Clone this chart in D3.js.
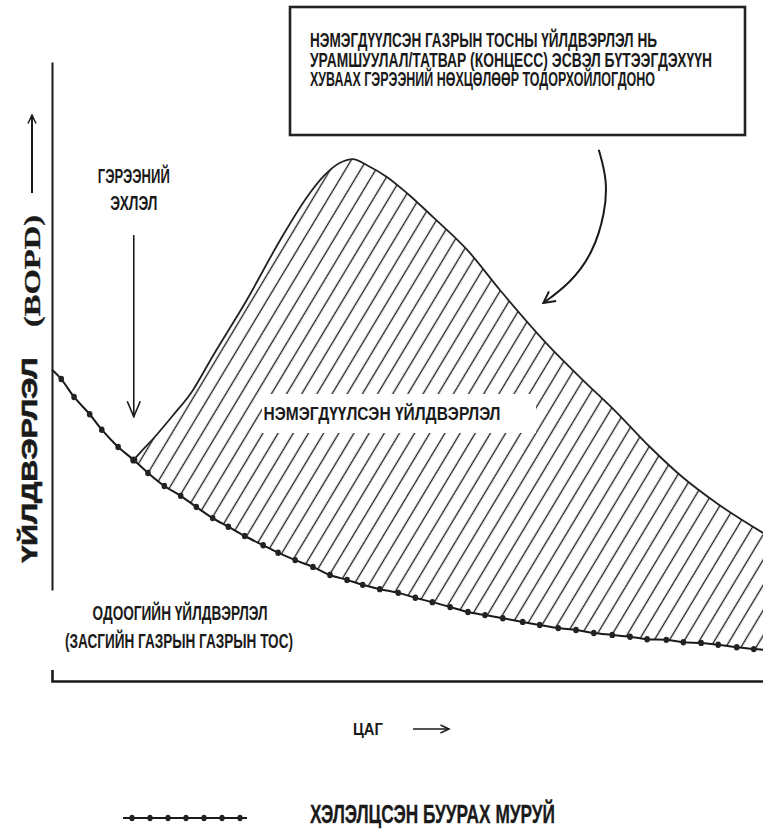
<!DOCTYPE html>
<html><head><meta charset="utf-8">
<script src="https://cdn.jsdelivr.net/npm/d3@7"></script>
<style>body{margin:0;background:#fff}svg{display:block;background:#fff}</style>
</head><body>
<svg id="chart" width="763" height="829"></svg>
<script>
// ---------- DATA ----------
// Negotiated (baseline) decline curve: time (0..100) vs production (0..100)
const declineTime = [0, 1.3, 3.1, 5.3, 7.0, 9.3, 11.5, 13.5, 15.8, 18.1, 20.3, 22.6, 24.8, 27.1, 29.7, 31.8, 34.2, 36.7, 39.1, 41.5, 43.7, 46.1, 48.7, 51.1, 53.5, 56.0, 58.5, 60.9, 63.4, 66.2, 68.6, 71.2, 73.7, 76.2, 78.8, 81.3, 83.7, 86.4, 88.8, 91.3, 93.7, 96.3, 98.7, 100];
const declineProd = [50.2, 48.7, 45.8, 43.0, 40.5, 37.7, 35.6, 33.5, 31.4, 29.8, 28.0, 26.2, 24.8, 23.3, 21.8, 20.6, 19.4, 18.3, 17.0, 16.2, 15.4, 14.7, 14.1, 13.3, 12.6, 11.8, 11.0, 10.5, 10.0, 9.4, 8.9, 8.4, 8.1, 7.6, 7.3, 7.0, 6.6, 6.5, 6.1, 6.0, 5.7, 5.3, 5.0, 4.9];
// Enhanced production curve after contract start
const enhancedTime = [11.5, 12.4, 14.2, 17.0, 19.7, 22.6, 27.4, 32.1, 35.9, 38.1, 40.5, 42.3, 44.3, 47.1, 49.9, 53.6, 58.4, 63.0, 70.0, 74.7, 79.5, 84.1, 88.7, 93.5, 100];
const enhancedProd = [35.6, 36.8, 39.0, 42.8, 46.7, 52.4, 61.5, 71.2, 78.2, 81.4, 83.7, 84.3, 83.3, 81.4, 78.8, 74.9, 69.6, 63.1, 53.9, 48.5, 43.2, 37.7, 32.8, 28.6, 23.8];
const contractStart = 11.5;
// Annotation arrows (data units)
const contractArrowProd = [72.0, 42.6];
const calloutArrowTime = [76.9, 78.1, 77.8, 76.1, 72.9, 69.1];
const calloutArrowProd = [85.8, 80.9, 75.6, 69.1, 64.2, 61.0];
// Texts
const boxLines = ["НЭМЭГДҮҮЛСЭН ГАЗРЫН ТОСНЫ ҮЙЛДВЭРЛЭЛ НЬ", "УРАМШУУЛАЛ/ТАТВАР (КОНЦЕСС) ЭСВЭЛ БҮТЭЭГДЭХҮҮН", "ХУВААХ ГЭРЭЭНИЙ НӨХЦӨЛӨӨР ТОДОРХОЙЛОГДОНО"];
const contractLabel = ["ГЭРЭЭНИЙ", "ЭХЛЭЛ"];
const areaLabel = "НЭМЭГДҮҮЛСЭН ҮЙЛДВЭРЛЭЛ";
const baseLabel = ["ОДООГИЙН ҮЙЛДВЭРЛЭЛ", "(ЗАСГИЙН ГАЗРЫН ГАЗРЫН ТОС)"];
const yLabel = "ҮЙЛДВЭРЛЭЛ";
const yUnit = "(BOPD)";
const xLabel = "ЦАГ";
const legendLabel = "ХЭЛЭЛЦСЭН БУУРАХ МУРУЙ";
const legendMarkers = [0, 1, 2, 3, 4, 5, 6];

// ---------- SETUP ----------
const svg = d3.select("#chart");
const narrow = "'Liberation Sans Narrow','Arial Narrow','Liberation Sans',Arial,sans-serif";
const ink = "#1a1a1a";

const x = d3.scaleLinear().domain([0, 100]).range([52, 763]);
const y = d3.scaleLinear().domain([0, 100]).range([680, 62]);

const decline = declineTime.map((t, i) => ({t, q: declineProd[i]}));
const enhanced = enhancedTime.map((t, i) => ({t, q: enhancedProd[i]}));

const defs = svg.append("defs");
const hatch = defs.append("pattern").attr("id", "hatch")
  .attr("patternUnits", "userSpaceOnUse")
  .attr("width", 13).attr("height", 30)
  .attr("patternTransform", "rotate(31)");
hatch.append("line").attr("x1", 6.5).attr("x2", 6.5).attr("y1", -2).attr("y2", 32)
  .attr("stroke", "#1e1e1e").attr("stroke-width", 1.35);

function arrowMarker(id, len, half, sw) {
  defs.append("marker").attr("id", id)
    .attr("markerUnits", "userSpaceOnUse")
    .attr("viewBox", `0 0 ${len + 2} ${2 * half + 2}`)
    .attr("markerWidth", len + 2).attr("markerHeight", 2 * half + 2)
    .attr("refX", len + 0.5).attr("refY", half + 1)
    .attr("orient", "auto")
    .append("path").attr("d", `M1,1 L${len + 0.5},${half + 1} L1,${2 * half + 1}`)
    .attr("fill", "none").attr("stroke", ink).attr("stroke-width", sw)
    .attr("stroke-linejoin", "miter");
}
arrowMarker("arrBig", 16, 6.5, 1.6);
arrowMarker("arrMid", 12, 6, 2);
arrowMarker("arrSmall", 9, 4, 1.5);

const declineLine = d3.line().x(d => x(d.t)).y(d => y(d.q)).curve(d3.curveCatmullRom.alpha(0.5));
const enhancedLine = d3.line().x(d => x(d.t)).y(d => y(d.q)).curve(d3.curveMonotoneX);

// ---------- HATCHED AREA ----------
const declineAfter = decline.filter(d => d.t >= contractStart).reverse();
const areaPath = enhancedLine(enhanced) + "L" + declineLine(declineAfter).slice(1) + "Z";
svg.append("path").attr("d", areaPath).attr("fill", "url(#hatch)").attr("stroke", "none");

// white panel behind area label
svg.append("rect").attr("x", 262).attr("y", 394).attr("width", 274).attr("height", 39).attr("fill", "#fff");
function label(sel, txt, opts) {
  const t = sel.append("text").attr("x", opts.x).attr("y", opts.y)
    .attr("text-anchor", opts.anchor || "start")
    .attr("font-family", opts.family || narrow)
    .attr("font-weight", opts.weight || "bold")
    .attr("font-size", opts.size).attr("fill", ink)
    .attr("textLength", opts.len).attr("lengthAdjust", "spacingAndGlyphs").text(txt);
  if (opts.sw) t.attr("stroke", ink).attr("stroke-width", opts.sw);
  if (opts.transform) t.attr("transform", opts.transform);
  return t;
}
label(svg, areaLabel, {x: 382, y: 420, anchor: "middle", size: 19, len: 237});

// enhanced curve outline
svg.append("path").attr("d", enhancedLine(enhanced)).attr("fill", "none")
  .attr("stroke", "#222").attr("stroke-width", 1.8);

// decline curve + markers
svg.append("path").attr("d", declineLine(decline)).attr("fill", "none")
  .attr("stroke", ink).attr("stroke-width", 2);
svg.append("g").selectAll("ellipse")
  .data(decline.filter((d, i) => i > 0 && i < decline.length - 1))
  .join("ellipse")
  .attr("cx", d => x(d.t)).attr("cy", d => y(d.q))
  .attr("rx", d => d.t === contractStart ? 3.6 : 2.8)
  .attr("ry", d => d.t === contractStart ? 3.6 : 3.2)
  .attr("fill", "#222");

// ---------- AXES ----------
const yAxisScale = d3.scaleLinear().domain([y.invert(590), 100]).range([590, 62]);
svg.append("g").attr("transform", "translate(52,0)")
  .call(d3.axisLeft(yAxisScale).tickValues([]).tickSizeOuter(0))
  .call(g => g.select(".domain").attr("stroke", ink).attr("stroke-width", 2));

const xAxisScale = d3.scaleLinear().domain([0, 110]).range([52, 790]);
svg.append("g").attr("transform", "translate(0,681)")
  .call(d3.axisBottom(xAxisScale).tickValues([]).tickSizeOuter(-11))
  .call(g => g.select(".domain").attr("stroke", ink).attr("stroke-width", 2.6));

// ---------- CONTRACT START ANNOTATION ----------
const cx = x(contractStart);
label(svg, contractLabel[0], {x: cx, y: 183, anchor: "middle", size: 20, len: 72});
label(svg, contractLabel[1], {x: cx, y: 210, anchor: "middle", size: 20, len: 47});
svg.append("line").attr("x1", cx).attr("x2", cx)
  .attr("y1", y(contractArrowProd[0])).attr("y2", y(contractArrowProd[1]))
  .attr("stroke", ink).attr("stroke-width", 1.6).attr("marker-end", "url(#arrBig)");

// ---------- CALLOUT BOX ----------
svg.append("rect").attr("x", 290).attr("y", 7).attr("width", 455).attr("height", 128)
  .attr("fill", "#fff").attr("stroke", "#222").attr("stroke-width", 2.6);
const boxWidths = [347, 402, 345];
const boxBase = [47, 67, 86];
boxLines.forEach((s, i) => label(svg, s, {x: 310, y: boxBase[i], size: 19.5, len: boxWidths[i]}));
const callout = calloutArrowTime.map((t, i) => ({t, q: calloutArrowProd[i]}));
svg.append("path").attr("d", d3.line().x(d => x(d.t)).y(d => y(d.q)).curve(d3.curveBasis)(callout))
  .attr("fill", "none").attr("stroke", ink).attr("stroke-width", 2)
  .attr("marker-end", "url(#arrMid)");

// ---------- BASE PRODUCTION LABEL ----------
label(svg, baseLabel[0], {x: 180, y: 620, anchor: "middle", size: 20.5, len: 175});
label(svg, baseLabel[1], {x: 179, y: 648, anchor: "middle", size: 20.5, len: 228});

// ---------- Y LABEL ----------
label(svg, yLabel, {x: 0, y: 0, anchor: "middle", family: "'Liberation Sans',Arial,sans-serif",
  size: 22, len: 205, sw: 0.6, transform: "translate(37,460) rotate(-90)"});
label(svg, yUnit, {x: 0, y: 0, anchor: "middle", family: "'Liberation Serif','Times New Roman',serif",
  size: 24, len: 112, sw: 0.3, transform: "translate(40,271) rotate(-90)"});
svg.append("line").attr("x1", 32).attr("x2", 32).attr("y1", 193).attr("y2", 115)
  .attr("stroke", ink).attr("stroke-width", 2).attr("marker-end", "url(#arrSmall)");

// ---------- X LABEL ----------
label(svg, xLabel, {x: 353, y: 735, size: 17, len: 30});
svg.append("line").attr("x1", 413).attr("x2", 449).attr("y1", 729).attr("y2", 729)
  .attr("stroke", ink).attr("stroke-width", 1.7).attr("marker-end", "url(#arrSmall)");

// ---------- LEGEND ----------
const lx = d3.scalePoint().domain(legendMarkers).range([132, 240]);
svg.append("line").attr("x1", 123).attr("x2", 247).attr("y1", 818).attr("y2", 818)
  .attr("stroke", ink).attr("stroke-width", 2);
svg.append("g").selectAll("ellipse").data(legendMarkers).join("ellipse")
  .attr("cx", d => lx(d)).attr("cy", 818).attr("rx", 2.6).attr("ry", 3.2).attr("fill", "#222");
label(svg, legendLabel, {x: 310, y: 823, size: 25, len: 245, sw: 0.3});
</script>
</body></html>
